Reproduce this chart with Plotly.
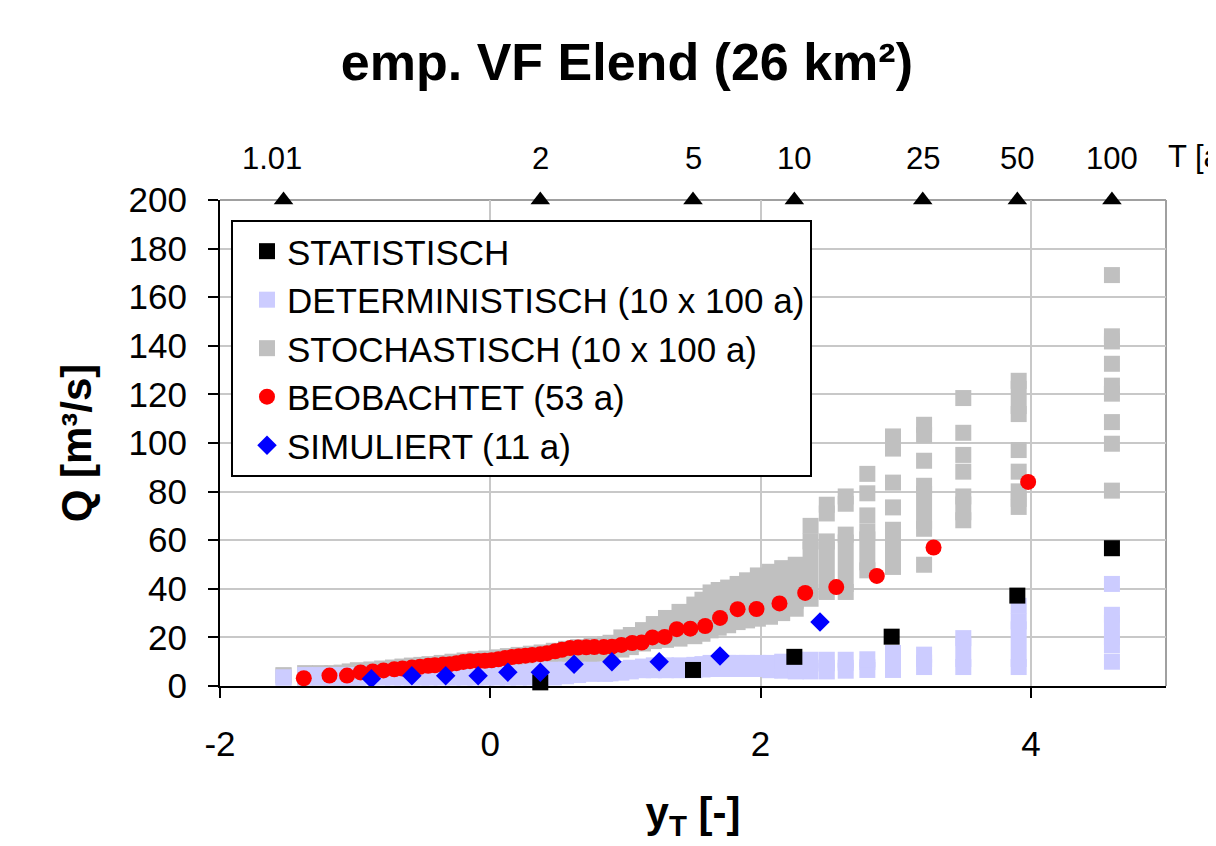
import plotly.graph_objects as go

FONT = "Liberation Sans, Arial, sans-serif"

# ---------------- data ----------------
# Q axis range
q_min, q_max = 0, 200

# bottom axis ticks
x_tickvals = [-2, 0, 2, 4]
x_ticktext = ["-2", "0", "2", "4"]

# top axis: return periods T [a] and their Gumbel reduced variate y_T
top_T_labels = ["1.01", "2", "5", "10", "25", "50", "100"]
top_T_yT = [-1.53, 0.37, 1.50, 2.25, 3.20, 3.90, 4.60]

# STATISTISCH
stat_x = [0.37, 1.50, 2.25, 2.97, 3.90, 4.60]
stat_q = [1.5, 6.6, 12.0, 20.3, 37.2, 56.7]

# BEOBACHTET (53 a)
obs_x = [3.98, 3.28, 2.86, 2.56, 2.33, 2.14, 1.97, 1.83, 1.70, 1.59,
         1.48, 1.38, 1.29, 1.20, 1.12, 1.05, 0.97, 0.90, 0.84, 0.77,
         0.71, 0.65, 0.59, 0.53, 0.48, 0.42, 0.37, 0.31, 0.26, 0.21,
         0.16, 0.11, 0.06, 0.01, -0.04, -0.09, -0.15, -0.20, -0.25, -0.30,
         -0.35, -0.41, -0.46, -0.52, -0.58, -0.65, -0.71, -0.79, -0.87, -0.96,
         -1.06, -1.19, -1.38]
obs_q = [84.0, 57.0, 45.3, 40.7, 38.3, 34.0, 31.7, 31.6, 28.0, 24.7,
         23.6, 23.4, 20.2, 20.0, 17.9, 17.7, 16.9, 16.2, 16.0, 16.0,
         15.9, 15.8, 15.6, 14.9, 14.3, 13.5, 13.1, 12.8, 12.5, 12.2,
         11.9, 11.5, 11.0, 10.6, 10.4, 10.3, 10.2, 9.9, 9.4, 9.0,
         8.8, 8.5, 8.3, 7.9, 7.6, 7.2, 6.9, 6.4, 6.0, 5.6,
         4.3, 4.3, 3.2]

# SIMULIERT (11 a)
sim_x = [2.44, 1.70, 1.25, 0.90, 0.62, 0.37, 0.13, -0.09, -0.33, -0.58, -0.88]
sim_q = [26.3, 12.3, 10.0, 10.0, 9.0, 5.7, 5.7, 4.2, 4.2, 4.2, 3.0]

# STOCHASTISCH (10 x 100 a): per plotting position, contiguous runs (lowest / highest value)
stoch_col_x = [-1.53, -1.37, -1.26, -1.17, -1.10, -1.04, -0.98, -0.88, -0.80, -0.72,
               -0.65, -0.58, -0.51, -0.45, -0.36, -0.28, -0.19, -0.11, -0.03, 0.05,
               0.13, 0.21, 0.30, 0.38, 0.47, 0.56, 0.65, 0.75, 0.85, 0.89,
               0.97, 1.04, 1.13, 1.21, 1.30, 1.40, 1.51, 1.57, 1.63, 1.69,
               1.76, 1.83, 1.90, 1.98, 2.07, 2.16, 2.26, 2.37, 2.49, 2.63,
               2.79, 2.98, 3.21, 3.50, 3.91, 3.91, 4.60, 4.60]
stoch_col_lo = [4.4, 3.5, 3.5, 3.5, 3.5, 3.5, 3.5, 3.8, 4.0, 4.0,
                4.2, 4.5, 4.8, 5.0, 5.3, 5.6, 6.0, 6.3, 6.7, 7.0,
                7.5, 8.0, 8.5, 9.0, 9.6, 10.3, 11.0, 12.0, 13.3, 13.6,
                15.0, 16.0, 17.5, 18.5, 19.0, 19.5, 20.5, 21.5, 22.9, 24.0,
                25.0, 26.3, 27.0, 27.7, 28.5, 30.0, 31.8, 35.9, 38.7, 38.7,
                47.6, 49.0, 64.7, 68.2, 73.7, 111.9, 120.3, 141.8]
stoch_col_hi = [4.4, 5.3, 5.3, 5.3, 5.5, 6.0, 6.5, 6.8, 7.2, 7.6,
                8.0, 8.4, 8.7, 9.0, 9.5, 10.0, 10.5, 11.0, 11.3, 11.8,
                12.3, 12.8, 13.3, 13.8, 14.5, 15.3, 16.0, 16.5, 17.2, 17.8,
                20.0, 21.0, 23.0, 25.5, 28.0, 30.5, 33.5, 35.5, 38.5, 39.5,
                40.5, 42.0, 43.5, 45.5, 47.0, 48.5, 49.9, 59.5, 59.5, 62.3,
                63.6, 64.3, 82.4, 78.0, 80.1, 125.6, 123.6, 143.9]
# STOCHASTISCH: single (separated) values
stoch_pt_x = [2.37, 2.49, 2.49, 2.63, 2.63, 2.79, 2.79, 2.79,
              2.98, 2.98, 2.98, 2.98, 3.21, 3.21, 3.21, 3.21,
              3.50, 3.50, 3.50, 3.50, 3.91, 3.91,
              4.60, 4.60, 4.60, 4.60, 4.60]
stoch_pt_q = [65.9, 71.0, 74.6, 75.0, 78.0, 70.2, 79.3, 87.3,
              73.5, 83.7, 97.7, 102.7, 49.9, 92.7, 103.2, 107.5,
              88.2, 95.1, 104.2, 118.5, 88.2, 97.1,
              80.4, 99.7, 108.6, 132.6, 169.1]

# DETERMINISTISCH (10 x 100 a)
det_col_x = [-1.53, -1.37, -1.26, -1.17, -1.10, -1.04, -0.98, -0.88, -0.80, -0.72,
             -0.65, -0.58, -0.51, -0.45, -0.36, -0.28, -0.19, -0.11, -0.03, 0.05,
             0.13, 0.21, 0.30, 0.38, 0.47, 0.56, 0.65, 0.75, 0.85, 0.89,
             0.97, 1.04, 1.13, 1.21, 1.30, 1.40, 1.51, 1.57, 1.63, 1.69,
             1.76, 1.83, 1.90, 1.98, 2.07, 2.16, 2.26, 2.37, 2.49, 2.63,
             2.79, 2.98, 3.21, 3.50, 3.91, 4.60]
det_col_lo = [3.5, 3.5, 3.5, 3.5, 3.5, 3.5, 3.5, 3.5, 3.5, 3.5,
              3.5, 3.5, 3.5, 3.5, 3.5, 3.5, 3.5, 3.5, 3.5, 3.5,
              3.5, 3.5, 3.5, 3.5, 3.5, 4.0, 4.5, 5.0, 5.0, 5.2,
              5.5, 6.0, 6.5, 6.5, 6.5, 6.5, 6.5, 6.8, 7.0, 7.0,
              7.0, 7.0, 7.0, 7.0, 6.5, 6.3, 6.0, 6.0, 6.0, 6.3,
              6.6, 6.6, 7.8, 7.8, 7.8, 16.8]
det_col_hi = [3.5, 4.5, 4.5, 4.5, 4.5, 4.5, 4.5, 5.0, 5.0, 5.0,
              5.0, 5.0, 5.0, 5.0, 5.0, 5.3, 5.3, 5.3, 5.3, 5.3,
              5.3, 5.5, 6.0, 6.7, 6.7, 6.7, 6.7, 6.7, 6.7, 6.8,
              7.0, 7.5, 8.0, 8.5, 8.5, 8.5, 8.7, 9.0, 9.5, 9.5,
              9.5, 9.5, 9.5, 9.5, 9.5, 10.0, 10.8, 10.8, 10.8, 10.8,
              11.0, 13.6, 12.9, 19.7, 26.6, 29.3]
det_pt_x = [3.91, 4.60, 4.60]
det_pt_q = [33.0, 42.0, 10.0]

# ---------------- styles ----------------
GRAY = "#c0c0c0"
LAV = "#ccccff"
SQ = 16


def runs(xs, los, his):
    X, Y = [], []
    for x, lo, hi in zip(xs, los, his):
        X += [x, x, None]
        Y += [lo, hi, None]
    return X, Y


fig = go.Figure()

# STOCHASTISCH
sx, sy = runs(stoch_col_x, stoch_col_lo, stoch_col_hi)
fig.add_trace(go.Scatter(x=sx, y=sy, mode="lines", line=dict(color=GRAY, width=SQ),
                         showlegend=False, hoverinfo="skip"))
fig.add_trace(go.Scatter(x=stoch_col_x + stoch_col_x + stoch_pt_x,
                         y=stoch_col_lo + stoch_col_hi + stoch_pt_q,
                         mode="markers", name="STOCHASTISCH (10 x 100 a)", legendrank=3,
                         marker=dict(symbol="square", size=SQ, color=GRAY, line=dict(width=0))))

# DETERMINISTISCH
dx, dy = runs(det_col_x, det_col_lo, det_col_hi)
fig.add_trace(go.Scatter(x=dx, y=dy, mode="lines", line=dict(color=LAV, width=SQ),
                         showlegend=False, hoverinfo="skip"))
fig.add_trace(go.Scatter(x=det_col_x + det_col_x + det_pt_x,
                         y=det_col_lo + det_col_hi + det_pt_q,
                         mode="markers", name="DETERMINISTISCH (10 x 100 a)", legendrank=2,
                         marker=dict(symbol="square", size=SQ, color=LAV, line=dict(width=0))))

# STATISTISCH
fig.add_trace(go.Scatter(x=stat_x, y=stat_q, mode="markers", name="STATISTISCH", legendrank=1,
                         cliponaxis=False,
                         marker=dict(symbol="square", size=SQ, color="black", line=dict(width=0))))

# BEOBACHTET
fig.add_trace(go.Scatter(x=obs_x, y=obs_q, mode="markers", name="BEOBACHTET (53 a)", legendrank=4,
                         marker=dict(symbol="circle", size=16, color="#ff0000", line=dict(width=0))))

# SIMULIERT
fig.add_trace(go.Scatter(x=sim_x, y=sim_q, mode="markers", name="SIMULIERT (11 a)", legendrank=5,
                         marker=dict(symbol="diamond", size=15, color="#0000ff", line=dict(width=0))))

# top return-period markers
fig.add_trace(go.Scatter(x=top_T_yT, y=[q_max] * len(top_T_yT), mode="markers",
                         cliponaxis=False, showlegend=False, hoverinfo="skip",
                         marker=dict(symbol="triangle-up", size=17, color="black", line=dict(width=0))))

for lab, xv in zip(top_T_labels, top_T_yT):
    fig.add_annotation(x=xv, y=q_max, xref="x", yref="y", text=lab, showarrow=False,
                       yanchor="bottom", yshift=22, xshift=(-12 if lab == "1.01" else 0),
                       font=dict(family=FONT, size=31, color="black"))
fig.add_annotation(x=1.0, y=q_max, xref="paper", yref="y", text="T [a]", showarrow=False,
                   xanchor="left", yanchor="bottom", yshift=24,
                   font=dict(family=FONT, size=31, color="black"))

fig.update_layout(
    width=1216, height=846,
    margin=dict(l=212, r=58, t=192, b=168),
    paper_bgcolor="white", plot_bgcolor="white",
    font=dict(family=FONT, color="black"),
    title=dict(text="<b>emp. VF Elend (26 km²)</b>", x=0.509, y=0.936,
               xanchor="center", yanchor="middle",
               font=dict(family=FONT, size=52, color="black")),
    showlegend=True,
    legend=dict(x=0.0116, y=0.959, xanchor="left", yanchor="top",
                bgcolor="white", bordercolor="black", borderwidth=2,
                font=dict(family=FONT, size=35, color="black"),
                traceorder="normal", indentation=14),
    shapes=[
        dict(type="line", xref="paper", yref="paper", x0=0, x1=1, y0=1, y1=1,
             line=dict(color="#a0a0a0", width=2), layer="below"),
        dict(type="line", xref="paper", yref="paper", x0=1, x1=1, y0=0, y1=1,
             line=dict(color="#a0a0a0", width=2), layer="below"),
    ],
)

fig.update_xaxes(range=[-2, 5], tickmode="array", tickvals=x_tickvals, ticktext=x_ticktext,
                 showgrid=True, gridcolor="#c8c8c8", gridwidth=2,
                 zeroline=False, showline=True, linecolor="black", linewidth=2,
                 ticks="outside", ticklen=10, tickwidth=2, tickcolor="black",
                 tickfont=dict(family=FONT, size=35, color="black"), ticklabelstandoff=16,
                 title=dict(text="<b>y<sub>T</sub> [-]</b>", standoff=36,
                            font=dict(family=FONT, size=42, color="black")))
fig.update_yaxes(range=[q_min, q_max], dtick=20, showgrid=True, gridcolor="#c8c8c8", gridwidth=2,
                 zeroline=False, showline=True, linecolor="black", linewidth=2,
                 ticks="outside", ticklen=10, tickwidth=2, tickcolor="black",
                 tickfont=dict(family=FONT, size=35, color="black"), ticklabelstandoff=14,
                 title=dict(text="<b>Q [m³/s]</b>", standoff=24,
                            font=dict(family=FONT, size=42, color="black")))

fig.write_html("out.html")
